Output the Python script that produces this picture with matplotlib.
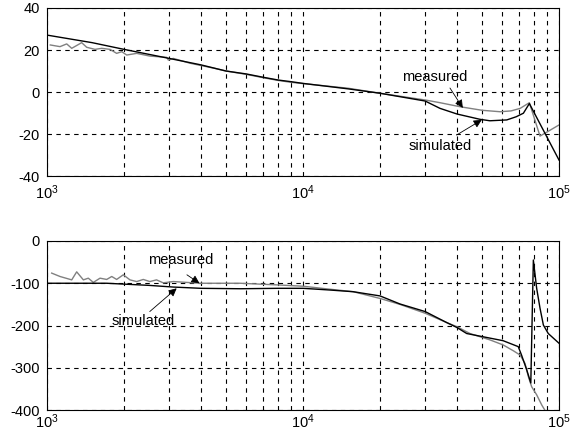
import matplotlib
matplotlib.use("Agg")
import matplotlib.pyplot as plt
from matplotlib.ticker import LogLocator, NullFormatter

plt.rcParams['font.family'] = ['Liberation Sans', 'DejaVu Sans']
plt.rcParams['mathtext.default'] = 'regular'
plt.rcParams['axes.unicode_minus'] = False

# magnitude (dB) - measured (gray, noisy at low freq)
mag_meas_f = [1030, 1124, 1194, 1249, 1366, 1429, 1540, 1636, 1762, 1871, 1959, 2048,
              2240, 2522, 2935, 2979, 3114, 3620, 4500, 5000, 6000, 7000, 8000, 9000,
              10000, 15000, 20000, 30000, 34300, 41000, 50000, 58900, 65000, 70500,
              76600, 84300, 100000]
mag_meas = [22.4, 21.6, 22.9, 20.8, 23.5, 21.3, 20.3, 20.8, 20.3, 18.4, 19.2, 17.6,
            18.4, 17.1, 16.5, 15.2, 16.0, 13.7, 11.3, 10.0, 8.4, 6.8, 5.5, 4.6,
            4.0, 1.8, -0.6, -3.8, -5.1, -7.0, -8.7, -9.4, -9.0, -7.8,
            -5.1, -21.0, -15.7]

# magnitude (dB) - simulated (black, smooth)
mag_sim_f = [1000, 1500, 2000, 3000, 4000, 5000, 6000, 7000, 8000, 9000, 10000,
             15000, 20000, 30000, 34300, 40000, 49100, 53700, 62500, 68000, 72600,
             76600, 100000]
mag_sim = [27.1, 23.5, 20.3, 16.0, 12.9, 10.0, 8.6, 7.0, 5.7, 4.9, 4.1,
           1.5, -0.6, -4.3, -7.8, -10.5, -13.0, -13.7, -13.3, -11.8, -10.1,
           -5.5, -32.4]

# phase (deg) - measured
ph_meas_f = [1043, 1124, 1249, 1306, 1387, 1450, 1517, 1611, 1711, 1790, 1871, 1986,
             2109, 2240, 2377, 2522, 2678, 2844, 3114, 3514, 3963, 4467, 5680, 8000,
             10000, 12700, 15700, 20000, 23900, 30000, 36400, 40000, 43600, 44900,
             53700, 60500, 66400, 70500, 73700, 75900, 78200, 81800, 85600, 90000]
ph_meas = [-76, -84, -92, -73, -92, -88, -98, -88, -91, -84, -91, -80,
           -92, -96, -91, -96, -92, -99, -96, -98, -100, -100, -100, -104,
           -107, -114, -120, -136, -150, -171, -193, -203, -215, -219,
           -234, -246, -260, -270, -290, -321, -345, -364, -388, -410]

# phase (deg) - simulated
ph_sim_f = [1000, 1711, 2500, 3114, 4000, 5700, 8000, 10000, 12700, 15700, 20000,
            23900, 30000, 36400, 40000, 43600, 48000, 60500, 69300, 71400, 74800,
            76600, 77600, 79400, 81800, 84300, 86900, 90800, 100000]
ph_sim = [-100, -100, -105, -109, -112, -113, -112, -112, -116, -120, -130,
          -149, -167, -193, -205, -219, -224, -236, -250, -270, -305,
          -325, -336, -45, -112, -159, -199, -219, -242]

W, H = 573, 445
fig = plt.figure(figsize=(W / 100, H / 100), dpi=100)
ax1 = fig.add_axes([47 / W, 1 - 176 / H, 512 / W, 168 / H])
ax2 = fig.add_axes([47 / W, 1 - 410 / H, 512 / W, 169 / H])

gray = '#808080'
ax1.plot(mag_meas_f, mag_meas, color=gray, lw=1)
ax1.plot(mag_sim_f, mag_sim, color='black', lw=1)
ax2.plot(ph_meas_f, ph_meas, color=gray, lw=1)
ax2.plot(ph_sim_f, ph_sim, color='black', lw=1)

for ax, lim, step, xpad in [(ax1, (-40, 40), 20, 5), (ax2, (-400, 0), 100, 2)]:
    ax.set_xscale('log')
    ax.set_xlim(1e3, 1e5)
    ax.set_ylim(*lim)
    ax.set_yticks(range(lim[0], lim[1] + 1, step))
    ax.xaxis.set_major_locator(LogLocator(base=10))
    ax.xaxis.set_minor_locator(LogLocator(base=10, subs=range(2, 10)))
    ax.xaxis.set_minor_formatter(NullFormatter())
    ax.grid(True, which='both', axis='x', color='black', ls=(0, (4, 4)), lw=0.8)
    ax.grid(True, which='major', axis='y', color='black', ls=(0, (4, 4)), lw=0.8)
    ax.tick_params(which='both', direction='in', length=0, labelsize=10.5)
    ax.tick_params(axis='y', pad=5)
    ax.tick_params(axis='x', pad=xpad)
    for s in ax.spines.values():
        s.set_linewidth(0.8)

arrow = dict(arrowstyle='-|>', color='black', lw=0.6, mutation_scale=12,
             shrinkA=0, shrinkB=0)
ax1.annotate('', xy=(42100, -7.6), xytext=(37500, 1.9), arrowprops=arrow)
ax1.text(32800, 7.1, 'measured', ha='center', va='center', fontsize=10.5)
ax1.annotate('', xy=(49900, -13.3), xytext=(39800, -20.5), arrowprops=arrow)
ax1.text(34300, -25.7, 'simulated', ha='center', va='center', fontsize=10.5)

ax2.annotate('', xy=(3940, -100), xytext=(3520, -80), arrowprops=arrow)
ax2.text(3340, -45, 'measured', ha='center', va='center', fontsize=10.5)
ax2.annotate('', xy=(3210, -112), xytext=(2520, -167), arrowprops=arrow)
ax2.text(2370, -189, 'simulated', ha='center', va='center', fontsize=10.5)

fig.savefig('out.png', dpi=100)
